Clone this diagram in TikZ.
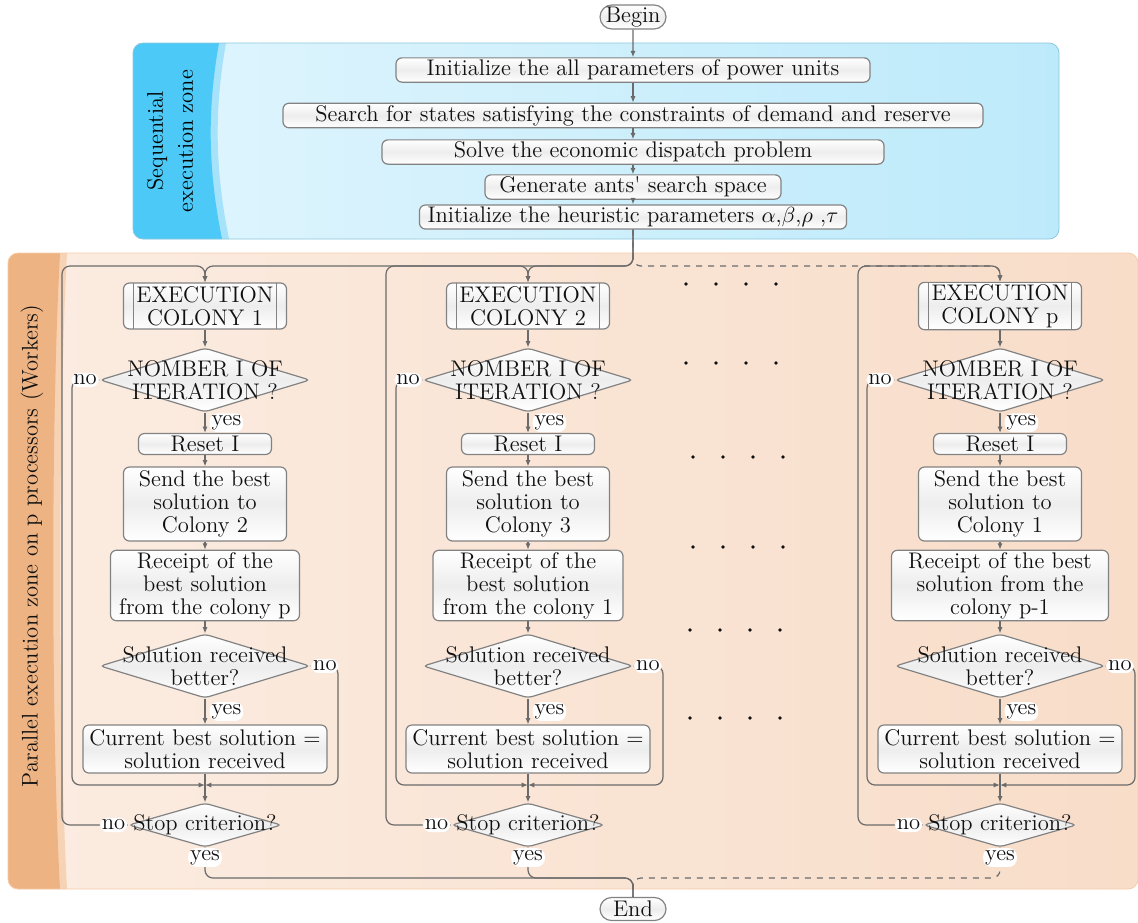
\documentclass[tikz,border=0pt]{standalone}
\usepackage{xcolor}
\usepackage{tikz}
\usetikzlibrary{arrows.meta, shapes.geometric, shapes.misc}
\definecolor{edgegray}{HTML}{828282}
\definecolor{linkgray}{HTML}{6B6B6B}
\definecolor{inkdark}{HTML}{101010}
\definecolor{seqdark}{HTML}{4CC9F6}
\definecolor{seqband}{HTML}{A6E3FA}
\definecolor{seqleft}{HTML}{E0F5FD}
\definecolor{seqright}{HTML}{BDEAFB}
\definecolor{seqedge}{HTML}{8CC7DC}
\definecolor{pardark}{HTML}{EEB382}
\definecolor{parband}{HTML}{F7D3B6}
\definecolor{parleft}{HTML}{FBECE1}
\definecolor{parright}{HTML}{F8DDC9}
\definecolor{paredge}{HTML}{F6CBA8}

\begin{document}
\begin{tikzpicture}[
  x=0.5pt, y=-0.5pt,
  font=\fontsize{11.3}{11.5}\selectfont\color{inkdark},
  box/.style={draw=edgegray, line width=0.6pt, rounded corners=3pt, top color=white, bottom color=white, middle color=black!7, align=center, inner sep=1pt, minimum height=10.5pt},
  term/.style={box, rounded rectangle, sharp corners, minimum width=35pt, minimum height=11.5pt},
  proc/.style={box, minimum width=81.5pt, minimum height=23pt,
    path picture={\draw[edgegray, line width=0.6pt]
      ([xshift=5pt]path picture bounding box.north west) -- ([xshift=5pt]path picture bounding box.south west)
      ([xshift=-5pt]path picture bounding box.north east) -- ([xshift=-5pt]path picture bounding box.south east);}},
  dec/.style={diamond, draw=edgegray, line width=0.6pt, rounded corners=2pt, top color=white, bottom color=white, middle color=black!7, inner sep=0pt, minimum width=105pt, minimum height=32pt},
  lbl/.style={fill=white, inner sep=1pt},
  link/.style={draw=linkgray, line width=0.6pt, rounded corners=4pt},
  conn/.style={link, -{Latex[length=3.2pt, width=2.6pt]}}
]
\useasboundingbox (0,0) rectangle (1138,922);

% sequential zone
\begin{scope}
\clip[rounded corners=5pt] (133,43) rectangle (1059,239);
\shade[left color=seqleft, right color=seqright] (133,43) rectangle (1059,239);
\fill[seqband] (133,43) -- (226,43) .. controls (214,110) and (215,170) .. (229,239) -- (133,239) -- cycle;
\fill[seqdark] (133,43) -- (219,43) .. controls (207,110) and (208,170) .. (222,239) -- (133,239) -- cycle;
\end{scope}
\draw[seqedge, rounded corners=5pt] (133,43) rectangle (1059,239);
\node[rotate=90, align=center, font=\fontsize{11.3}{15}\selectfont] (seqtitle) at (170,141) {Sequential\\execution zone};

% parallel zone
\begin{scope}
\clip[rounded corners=5pt] (8,253) rectangle (1138,889);
\shade[left color=parleft, right color=parright] (8,253) rectangle (1138,889);
\fill[parband] (8,253) -- (67,253) .. controls (58,420) and (58,720) .. (67,889) -- (8,889) -- cycle;
\fill[pardark] (8,253) -- (60,253) .. controls (51,420) and (51,720) .. (60,889) -- (8,889) -- cycle;
\end{scope}
\draw[paredge, rounded corners=5pt] (8,253) rectangle (1138,889);
\node[rotate=90] (partitle) at (32,546) {Parallel execution zone on p processors (Workers)};

\node[term] (begin) at (633,17) {Begin};
\node[box, minimum width=237pt] (seq1) at (633,70) {Initialize the all parameters of power units};
\node[box, minimum width=350pt, minimum height=11.5pt] (seq2) at (633,115.5) {Search for states satisfying the constraints of demand and reserve};
\node[box, minimum width=251pt] (seq3) at (633,152) {Solve the economic dispatch problem};
\node[box, minimum width=148pt] (seq4) at (633,187) {Generate ants\textquotesingle{} search space};
\node[box, minimum width=213.5pt] (seq5) at (633,217) {Initialize the heuristic parameters $\alpha$,$\beta$,$\rho$ ,$\tau$};
\node[term] (end) at (633,909) {End};
\coordinate (fork) at (633,266);
\coordinate (join) at (633,878);

\foreach \a/\b in {begin/seq1, seq1/seq2, seq2/seq3, seq3/seq4, seq4/seq5}
  \draw[conn] (\a) -- (\b);

\foreach \c/\cx/\nxt/\rcv/\rw/\L/\R/\O/\ls in {
  1/205/2/{Receipt of the\\best solution\\from the colony p}/94.5/72/338/62/solid,
  2/528/3/{Receipt of the\\best solution\\from the colony 1}/95/396/663/386/solid,
  p/1000/1/{Receipt of the best\\solution from the\\colony p-1}/108.5/867/1135/858/dashed}{
  \node[proc] (exec\c) at (\cx,306) {EXECUTION\\COLONY \c};
  \node[dec, label={[align=center]center:{NOMBER I OF\\ITERATION ?}}] (iter\c) at (\cx,380) {};
  \node[box, minimum width=66.5pt] (reset\c) at (\cx,444) {Reset I};
  \node[box, minimum width=81.5pt, minimum height=37pt] (send\c) at (\cx,504) {Send the best\\solution to\\Colony \nxt};
  \node[box, minimum width=\rw pt, minimum height=32.5pt] (recv\c) at (\cx,585.5) {\rcv};
  \node[dec, label={[align=center]center:{Solution received\\better?}}] (better\c) at (\cx,666) {};
  \node[box, minimum width=122pt, minimum height=24pt] (best\c) at (\cx,749) {Current best solution =\\solution received};
  \node[dec, minimum width=76.5pt, minimum height=22pt, label={center:{Stop criterion?}}] (stop\c) at (\cx,825) {};
  \coordinate (top\c) at (\cx,266);
  \coordinate (merge\c) at (\cx,785);
  \coordinate (out\c) at (\cx,878);

  \draw[conn,\ls] (seq5.south) -- (fork) -| (exec\c.north);
  \draw[conn] (exec\c) -- (iter\c);
  \draw[conn] (iter\c) -- node[lbl, right, xshift=2pt]{yes} (reset\c);
  \draw[conn] (reset\c) -- (send\c);
  \draw[conn] (send\c) -- (recv\c);
  \draw[conn] (recv\c) -- (better\c);
  \draw[conn] (better\c) -- node[lbl, right, xshift=2pt]{yes} (best\c);
  \draw[link] (best\c) -- (merge\c);
  \draw[conn] (merge\c) -- (stop\c);
  \draw[conn] (iter\c.west) -- node[lbl, left, pos=0]{no} (\L,380) |- (merge\c);
  \draw[conn] (better\c.east) -- node[lbl, right, pos=0]{no} (\R,666) |- (merge\c);
  \draw[conn] (stop\c.west) -- node[lbl, left, pos=0]{no} (\O,825) |- (top\c) -- (exec\c.north);
  \draw[link,\ls] (stop\c.south) -- node[lbl, below, pos=0]{yes} (out\c) -- (join) -- (end);
}

\foreach \y/\x in {284/686, 363/686, 457/693, 547/693, 630/690, 718/690}
  \foreach \k in {0,...,3}
    \fill[inkdark] (\x+30*\k,\y) circle (0.9pt);
\end{tikzpicture}
\end{document}
